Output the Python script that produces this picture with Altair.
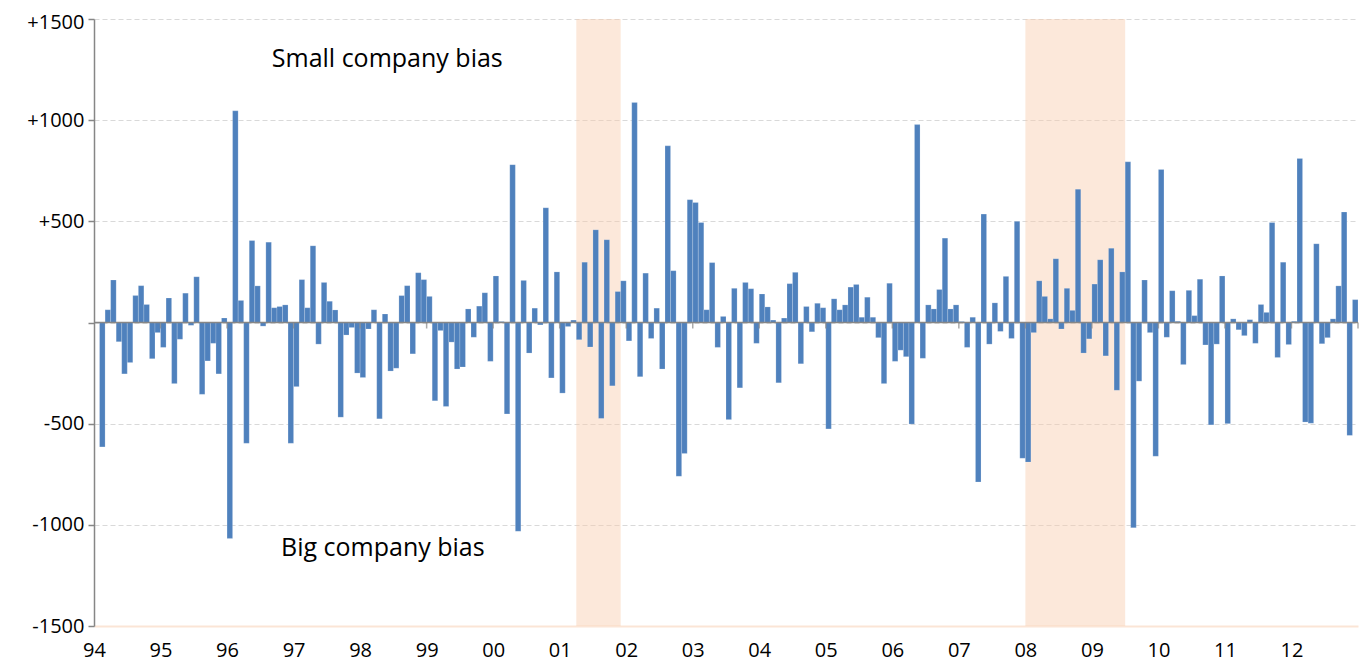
import altair as alt
import pandas as pd

# Monthly values, Feb 1994 .. Dec 2012 (slot 1 = Feb 1994; slot 0 = Jan 1994 has no value)
values = [
    -615, 63, 210, -95, -254, -198, 133, 182, 89, -179, -50,            # 1994 Feb-Dec
    -123, 121, -302, -83, 145, -14, 226, -355, -190, -103, -254, 22,    # 1995
    -1067, 1046, 109, -597, 405, 181, -18, 397, 73, 79, 87, -597,       # 1996
    -317, 212, 73, 379, -107, 198, 105, 62, -468, -62, -25, -250,       # 1997
    -272, -32, 63, -476, 42, -240, -226, 133, 182, -155, 246, 212,      # 1998
    129, -387, -40, -415, -97, -230, -220, 67, -73, 81, 147, -192,      # 1999
    230, 5, -452, 780, -1032, 208, -151, 71, -12, 567, -274, 250,       # 2000
    -349, -20, 12, -85, 298, -121, 458, -474, 409, -313, 153, 206,      # 2001
    -91, 1087, -268, 244, -79, 71, -230, 873, 256, -760, -647, 607,     # 2002
    593, 494, 63, 296, -123, 30, -480, 169, -323, 198, 167, -103,       # 2003
    141, 77, 12, -298, 22, 192, 248, -204, 79, -46, 95, 73,             # 2004
    -526, 117, 63, 87, 175, 188, 26, 125, 26, -75, -302, 194,           # 2005
    -192, -137, -169, -502, 978, -177, 87, 67, 163, 417, 67, 87,        # 2006
    5, -123, 26, -788, 536, -107, 97, -44, 228, -79, 500, -671,         # 2007
    -690, -50, 206, 129, 18, 315, -32, 169, 60, 659, -151, -81,         # 2008
    190, 310, -165, 367, -335, 250, 794, -1014, -290, 210, -50, -661,   # 2009
    756, -73, 157, 6, -208, 159, 34, 214, -111, -506, -107, 230,        # 2010
    -500, 18, -36, -65, 14, -103, 89, 50, 494, -173, 298, -109,         # 2011
    6, 811, -492, -498, 389, -105, -75, 18, 181, 546, -558, 113,        # 2012
]

years = ["94", "95", "96", "97", "98", "99", "00", "01", "02", "03",
         "04", "05", "06", "07", "08", "09", "10", "11", "12"]

# Recessions (first month, month after last)
rec_start = ["2001-04", "2008-01"]
rec_end = ["2001-12", "2009-07"]

y_ticks = [-1500, -1000, -500, 0, 500, 1000, 1500]

annotations = ["Small company bias", "Big company bias"]


def month_index(s):
    y, m = s.split("-")
    return (int(y) - 1994) * 12 + int(m) - 1


n_slots = 12 * len(years)  # Jan 1994 .. Jan 2013 boundary

bars = pd.DataFrame({
    "start": [i + 1 for i in range(len(values))],
    "end": [i + 2 for i in range(len(values))],
    "value": values,
})
shade = pd.DataFrame({
    "start": [month_index(s) for s in rec_start],
    "end": [month_index(s) for s in rec_end],
})
year_ticks = pd.DataFrame({"start": [12 * k for k in range(1, len(years) + 1)]})
one_row = pd.DataFrame({"k": [0]})

FONT = "Open Sans"
label_arr = "[" + ",".join("'" + y + "'" for y in years) + "]"

x_scale = alt.Scale(domain=[0, n_slots], nice=False, zero=False)
x_axis = alt.Axis(
    values=[12 * k for k in range(len(years))],
    labelExpr=label_arr + "[round(datum.value / 12)]",
    title=None, grid=False, ticks=False,
    domainColor="#FBE5D6", domainWidth=2,
    labelFont=FONT, labelFontSize=20, labelColor="#000000",
    labelPadding=14, labelFlush=False, labelOverlap=False,
)
y_scale = alt.Scale(domain=[-1500, 1500], nice=False)
y_axis = alt.Axis(
    values=y_ticks,
    labelExpr="datum.value > 0 ? '+' + datum.value : (datum.value < 0 ? '' + datum.value : '')",
    title=None, grid=True, gridColor="#D9D9D9", gridDash=[5, 3], gridWidth=1,
    domainColor="#868686", domainWidth=1.5, tickColor="#868686", tickSize=6, tickWidth=1.5,
    labelFont=FONT, labelFontSize=20, labelColor="#000000", labelPadding=4,
    labelFlush=False, labelBound=False,
    labelOffset={"condition": {"test": "datum.value == 1500", "value": 3}, "value": 0},
)

shade_layer = alt.Chart(shade).mark_rect(color="#F8CBAD", opacity=0.45).encode(
    x=alt.X("start:Q", scale=x_scale, axis=x_axis),
    x2="end:Q",
    y=alt.Y(datum=1500, scale=y_scale, axis=y_axis),
    y2=alt.Y2(datum=-1500),
)

bar_layer = alt.Chart(bars).mark_rect(
    color="#4F81BD", stroke="#FFFFFF", strokeWidth=0.3, strokeOpacity=0.6
).encode(
    x=alt.X("start:Q", scale=x_scale, axis=x_axis),
    x2="end:Q",
    y=alt.Y("value:Q", scale=y_scale, axis=y_axis),
    y2=alt.Y2(datum=0),
)

zero_layer = alt.Chart(one_row).mark_rule(color="#868686", strokeWidth=1.5).encode(
    y=alt.Y(datum=0, scale=y_scale, axis=y_axis),
)

tick_layer = alt.Chart(year_ticks).mark_tick(
    orient="vertical", color="#868686", size=6, thickness=1.5, yOffset=3
).encode(
    x=alt.X("start:Q", scale=x_scale, axis=x_axis),
    y=alt.Y(datum=0, scale=y_scale, axis=y_axis),
)

small_text = alt.Chart(one_row).mark_text(
    text=annotations[0], font=FONT, fontSize=25, fontWeight="normal", color="#000000",
    align="center", baseline="middle"
).encode(
    x=alt.X(datum=52.9, scale=x_scale, axis=x_axis),
    y=alt.Y(datum=1300, scale=y_scale, axis=y_axis),
)

big_text = alt.Chart(one_row).mark_text(
    text=annotations[1], font=FONT, fontSize=25, fontWeight="normal", color="#000000",
    align="center", baseline="middle"
).encode(
    x=alt.X(datum=52.1, scale=x_scale, axis=x_axis),
    y=alt.Y(datum=-1115, scale=y_scale, axis=y_axis),
)

chart = alt.layer(
    shade_layer, bar_layer, zero_layer, tick_layer, small_text, big_text
).properties(
    width=1264, height=607,
    autosize=alt.AutoSizeParams(type="none"),
    padding={"left": 86, "top": 11, "right": 2, "bottom": 37},
    background="#FFFFFF",
).configure_view(stroke=None)

chart.save("out.html", embed_options={"renderer": "svg", "actions": False})
